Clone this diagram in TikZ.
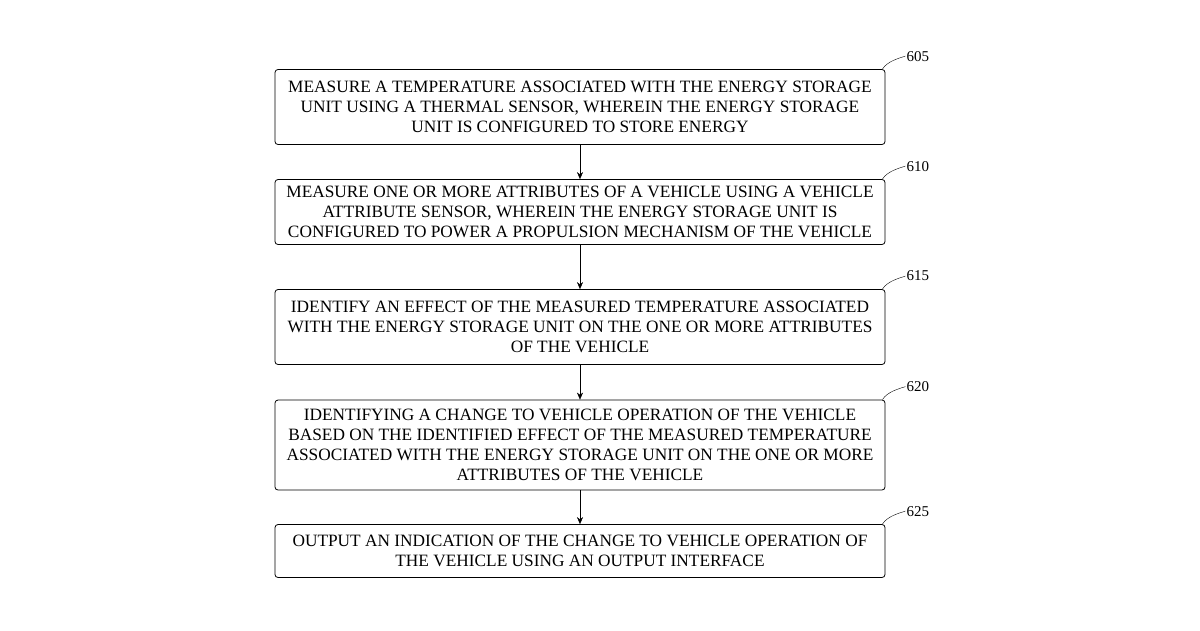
\documentclass[tikz,border=0pt]{standalone}
\usepackage{fontspec}
\setmainfont{Liberation Serif}
\usetikzlibrary{arrows.meta,positioning}
\begin{document}
\begin{tikzpicture}[x=1pt,y=1pt,
    stepbox/.style = {draw=black, thick, rounded corners=3pt, minimum width=610pt,
            align=center, font=\fontsize{17.3}{20}\selectfont, inner sep=1pt},
    lbl/.style = {font=\fontsize{15}{16}\selectfont, inner sep=1pt},
    ->, >={Stealth[length=7pt,width=6pt]}]
  \useasboundingbox (0,0) rectangle (1200,-630);
  \node [stepbox, minimum height=75pt] (s605) at (580,-107)
    {MEASURE A TEMPERATURE ASSOCIATED WITH THE ENERGY STORAGE\\
     UNIT USING A THERMAL SENSOR, WHEREIN THE ENERGY STORAGE\\
     UNIT IS CONFIGURED TO STORE ENERGY};
  \node [stepbox, minimum height=65pt] (s610) at (580,-212)
    {MEASURE ONE OR MORE ATTRIBUTES OF A VEHICLE USING A VEHICLE\\
     ATTRIBUTE SENSOR, WHEREIN THE ENERGY STORAGE UNIT IS\\
     CONFIGURED TO POWER A PROPULSION MECHANISM OF THE VEHICLE};
  \node [stepbox, minimum height=75pt] (s615) at (580,-327)
    {IDENTIFY AN EFFECT OF THE MEASURED TEMPERATURE ASSOCIATED\\
     WITH THE ENERGY STORAGE UNIT ON THE ONE OR MORE ATTRIBUTES\\
     OF THE VEHICLE};
  \node [stepbox, minimum height=90pt] (s620) at (580,-445)
    {IDENTIFYING A CHANGE TO VEHICLE OPERATION OF THE VEHICLE\\
     BASED ON THE IDENTIFIED EFFECT OF THE MEASURED TEMPERATURE\\
     ASSOCIATED WITH THE ENERGY STORAGE UNIT ON THE ONE OR MORE\\
     ATTRIBUTES OF THE VEHICLE};
  \node [stepbox, minimum height=53pt] (s625) at (580,-551)
    {OUTPUT AN INDICATION OF THE CHANGE TO VEHICLE OPERATION OF\\
     THE VEHICLE USING AN OUTPUT INTERFACE};
  % arrows between steps
  \draw (s605) -- (s610);
  \draw (s610) -- (s615);
  \draw (s615) -- (s620);
  \draw (s620) -- (s625);
  % reference numerals
  \foreach \s in {605,610,615,620,625} {
    \node [lbl, anchor=west] (l\s) at ([xshift=20pt,yshift=13pt]s\s.north east) {\s};
    \draw [-] ([xshift=-3pt]s\s.north east) .. controls +(5,8) and +(-6,-2) .. (l\s.west);
  }
\end{tikzpicture}
\end{document}
